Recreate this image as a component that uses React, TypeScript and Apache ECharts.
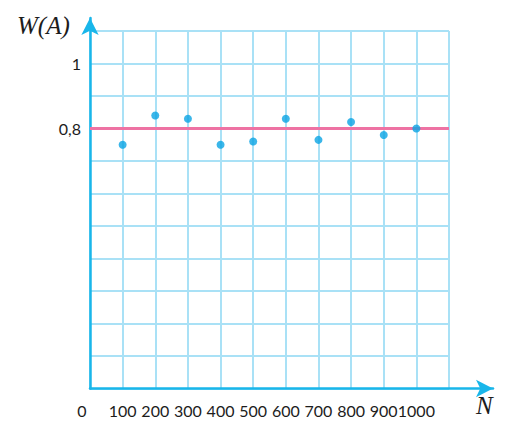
import React, { useEffect, useRef } from "react";
import * as echarts from "echarts";

const sampleSizes = [100, 200, 300, 400, 500, 600, 700, 800, 900, 1000];
const frequencies = [0.75, 0.84, 0.83, 0.75, 0.76, 0.83, 0.765, 0.82, 0.78, 0.8];
const probability = 0.8;
const xTickValues = [0, 100, 200, 300, 400, 500, 600, 700, 800, 900, 1000];
const yTickLabels: [number, string][] = [[1, "1"], [0.8, "0,8"]];

export default function App() {
  const ref = useRef<HTMLDivElement>(null);
  useEffect(() => {
    document.body.style.margin = "0";
    if (!ref.current) return;
    const chart = echarts.init(ref.current, undefined, { renderer: "svg" });
    const points = sampleSizes.map((n, i) => [n, frequencies[i]]);
    const axisColor = "#19b6ea";
    const gridColor = "#a9e1f6";
    const labelFont = { fontFamily: "Lato", fontSize: 16, color: "#1c1c1c" };
    chart.setOption({
      animation: false,
      backgroundColor: "#ffffff",
      grid: [
        { left: 90, right: 57, top: 31, bottom: 33.5 },
        { left: 90, right: 13, top: 18, bottom: 33.5 },
      ],
      xAxis: [
        {
          gridIndex: 0,
          type: "value",
          min: 0,
          max: 1100,
          interval: 100,
          axisLine: { show: false },
          axisTick: { show: false },
          splitLine: { show: true, lineStyle: { color: gridColor, width: 2 } },
          axisLabel: {
            ...labelFont,
            margin: 14,
            formatter: (v: number) => {
              const r = Math.round(v);
              if (!xTickValues.includes(r)) return "";
              if (r === 0) return "{z|0}";
              return String(r);
            },
            rich: { z: { ...labelFont, padding: [0, 16, 0, 0] } },
          },
        },
        {
          gridIndex: 1,
          type: "value",
          min: 0,
          max: 1,
          axisLabel: { show: false },
          axisTick: { show: false },
          splitLine: { show: false },
          axisLine: {
            show: true,
            symbol: ["none", "arrow"],
            symbolSize: [13, 17],
            lineStyle: { color: axisColor, width: 2.5 },
          },
        },
      ],
      yAxis: [
        {
          gridIndex: 0,
          type: "value",
          min: 0,
          max: 1.1,
          interval: 0.1,
          axisLine: { show: false },
          axisTick: { show: false },
          splitLine: { show: true, lineStyle: { color: gridColor, width: 2 } },
          axisLabel: {
            ...labelFont,
            margin: 9,
            padding: [6, 0, 0, 0],
            formatter: (v: number) => {
              const hit = yTickLabels.find(([val]) => Math.abs(val - v) < 1e-6);
              return hit ? hit[1] : "";
            },
          },
        },
        {
          gridIndex: 1,
          type: "value",
          min: 0,
          max: 1,
          axisLabel: { show: false },
          axisTick: { show: false },
          splitLine: { show: false },
          axisLine: {
            show: true,
            symbol: ["none", "arrow"],
            symbolSize: [13, 17],
            lineStyle: { color: axisColor, width: 2.5 },
          },
        },
      ],
      series: [
        {
          type: "line",
          xAxisIndex: 0,
          yAxisIndex: 0,
          data: [[0, probability], [1100, probability]],
          symbol: "none",
          lineStyle: { color: "#ee72a3", width: 3 },
          z: 3,
        },
        {
          type: "scatter",
          xAxisIndex: 0,
          yAxisIndex: 0,
          data: points,
          symbol: "circle",
          symbolSize: 8,
          itemStyle: { color: "#0aa4e4" },
          z: 4,
        },
      ],
      graphic: [
        {
          type: "text",
          left: 17,
          top: 13,
          style: {
            text: "W(A)",
            font: "italic 25px 'Liberation Serif'",
            fill: "#1c1c1c",
          },
        },
        {
          type: "text",
          left: 476,
          top: 393,
          style: {
            text: "N",
            font: "italic 25px 'Liberation Serif'",
            fill: "#1c1c1c",
          },
        },
      ],
    });
    return () => chart.dispose();
  }, []);
  return <div ref={ref} style={{ width: 506, height: 422 }} />;
}
